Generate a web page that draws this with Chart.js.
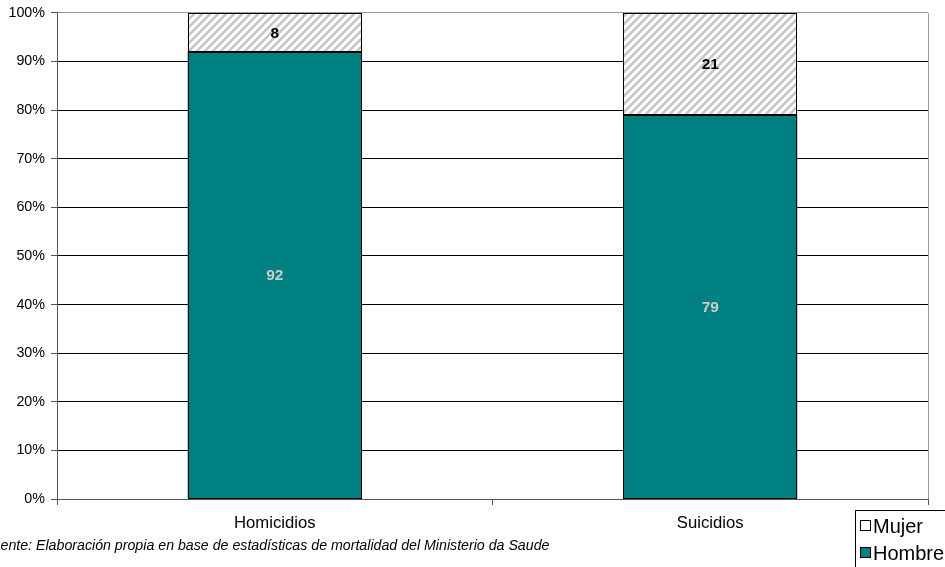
<!DOCTYPE html>
<html>
<head>
<meta charset="utf-8">
<script src="https://cdn.jsdelivr.net/npm/chart.js@4"></script>
<style>
  html, body { margin: 0; padding: 0; background: #fff; }
  #wrap { width: 945px; height: 567px; position: relative; }
</style>
</head>
<body>
<div id="wrap"><canvas id="c" width="945" height="567"></canvas></div>
<script>
const categories = ['Homicidios', 'Suicidios'];
const hombreValues = [92, 79];
const mujerValues = [8, 21];
const seriesNames = ['Hombre', 'Mujer'];
const yTickLabels = ['0%', '10%', '20%', '30%', '40%', '50%', '60%', '70%', '80%', '90%', '100%'];
const sourceNote = 'Fuente: Elaboración propia en base de estadísticas de mortalidad del Ministerio da Saude';

const FONT = 'Arial, "Liberation Sans", sans-serif';
const TEAL = '#008080';

// Diagonal hatch fill for the "Mujer" segments
function makeHatch() {
  const s = 8;
  const p = document.createElement('canvas');
  p.width = s; p.height = s;
  const g = p.getContext('2d');
  g.fillStyle = '#ffffff';
  g.fillRect(0, 0, s, s);
  g.strokeStyle = '#c4c4c4';
  g.lineWidth = 2.4;
  g.beginPath();
  g.moveTo(-2, s + 2); g.lineTo(s + 2, -2);
  g.moveTo(-2, 2); g.lineTo(2, -2);
  g.moveTo(s - 2, s + 2); g.lineTo(s + 2, s - 2);
  g.stroke();
  return g.createPattern(p, 'repeat');
}
const hatch = makeHatch();

// Crisp black outlines plus value labels centred in each bar segment
const segmentLabels = {
  id: 'segmentLabels',
  afterDatasetsDraw(chart) {
    const ctx = chart.ctx;
    ctx.save();
    ctx.strokeStyle = '#000';
    ctx.lineWidth = 1;
    chart.data.datasets.forEach((ds, di) => {
      const meta = chart.getDatasetMeta(di);
      meta.data.forEach((bar) => {
        const x0 = Math.round(bar.x - bar.width / 2) + 0.5;
        const x1 = Math.round(bar.x + bar.width / 2) - 0.5;
        const y0 = Math.round(Math.min(bar.y, bar.base)) + 0.5;
        const y1 = Math.round(Math.max(bar.y, bar.base)) - 0.5;
        ctx.strokeRect(x0, y0, x1 - x0, y1 - y0);
      });
    });
    ctx.font = 'bold 15.5px ' + FONT;
    ctx.textAlign = 'center';
    ctx.textBaseline = 'middle';
    chart.data.datasets.forEach((ds, di) => {
      const meta = chart.getDatasetMeta(di);
      meta.data.forEach((bar, i) => {
        const y = (bar.y + bar.base) / 2;
        ctx.fillStyle = di === 0 ? '#cccccc' : '#000000';
        ctx.fillText(String(ds.data[i]), bar.x, y + 1);
      });
    });
    ctx.restore();
  }
};

// Plot frame, legend box and source note
const decorations = {
  id: 'decorations',
  beforeDatasetsDraw(chart) {
    const { ctx, chartArea: a } = chart;
    ctx.save();
    ctx.strokeStyle = '#9a9a9a';
    ctx.lineWidth = 1;
    ctx.beginPath();
    ctx.moveTo(Math.round(a.right) + 0.5, a.top);
    ctx.lineTo(Math.round(a.right) + 0.5, a.bottom);
    ctx.stroke();
    ctx.restore();
  },
  afterDraw(chart) {
    const ctx = chart.ctx;
    ctx.save();
    // legend
    ctx.fillStyle = '#fff';
    ctx.fillRect(855, 510, 100, 60);
    ctx.strokeStyle = '#000';
    ctx.lineWidth = 1;
    ctx.strokeRect(855.5, 510.5, 100, 60);
    const items = [
      { label: seriesNames[1], fill: '#ffffff', y: 526 },
      { label: seriesNames[0], fill: TEAL, y: 553 }
    ];
    ctx.font = '20px ' + FONT;
    ctx.textBaseline = 'middle';
    ctx.textAlign = 'left';
    items.forEach(it => {
      ctx.fillStyle = it.fill;
      ctx.fillRect(860.5, it.y - 5.5, 10, 10);
      ctx.strokeStyle = '#000';
      ctx.strokeRect(860.5, it.y - 5.5, 10, 10);
      ctx.fillStyle = '#000';
      ctx.fillText(it.label, 873, it.y + 1);
    });
    // source note
    ctx.font = 'italic 14.2px ' + FONT;
    ctx.textBaseline = 'middle';
    ctx.fillStyle = '#000';
    const w = ctx.measureText('Fu').width;
    ctx.fillText(sourceNote, -w + 0.5, 546);
    ctx.restore();
  }
};

new Chart(document.getElementById('c'), {
  type: 'bar',
  data: {
    labels: categories,
    datasets: [
      {
        label: seriesNames[0],
        data: hombreValues,
        backgroundColor: TEAL,
        borderWidth: 0,
        barPercentage: 0.8,
        categoryPercentage: 0.5
      },
      {
        label: seriesNames[1],
        data: mujerValues,
        backgroundColor: hatch,
        borderWidth: 0,
        barPercentage: 0.8,
        categoryPercentage: 0.5
      }
    ]
  },
  options: {
    responsive: false,
    animation: false,
    devicePixelRatio: 1,
    layout: { padding: { top: 0, right: 17, left: 0, bottom: 0 } },
    plugins: {
      legend: { display: false },
      tooltip: { enabled: false }
    },
    scales: {
      x: {
        stacked: true,
        grid: {
          display: true,
          drawOnChartArea: false,
          drawTicks: true,
          tickLength: 6,
          color: '#555',
          offset: true
        },
        border: { display: true, color: '#555', width: 1 },
        ticks: {
          color: '#000',
          font: { family: FONT, size: 16.7 },
          padding: 8
        },
        afterFit(scale) { scale.height = 68; }
      },
      y: {
        stacked: true,
        min: 0,
        max: 100,
        grid: {
          color: ctx => (ctx.tick && ctx.tick.value === 100) ? '#9a9a9a' : '#000',
          lineWidth: 1,
          tickLength: 6,
          tickColor: '#555'
        },
        border: { display: true, color: '#555', width: 1 },
        ticks: {
          stepSize: 10,
          color: '#000',
          padding: 6,
          font: { family: FONT, size: 14.3, lineHeight: 0.97 },
          callback: (v) => yTickLabels[Math.round(v / 10)]
        },
        afterFit(scale) { scale.width = 57; }
      }
    }
  },
  plugins: [decorations, segmentLabels]
});
</script>
</body>
</html>
